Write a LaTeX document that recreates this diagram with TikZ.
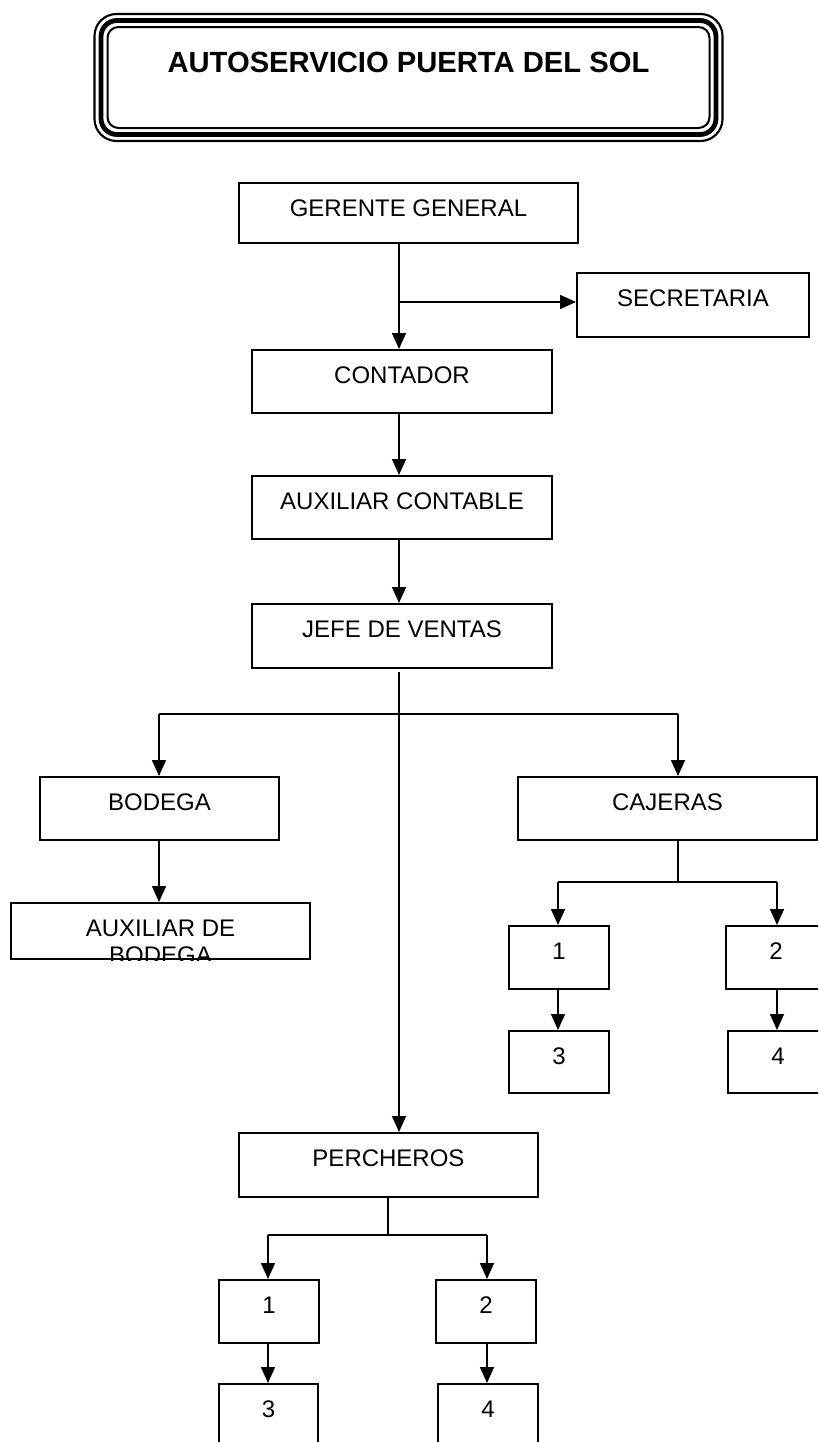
\documentclass[tikz,border=0pt]{standalone}
\usepackage{fontspec}
\setmainfont{Liberation Sans}
\usetikzlibrary{arrows.meta}
\tikzset{
  box/.style 2 args={draw=black, line width=1.5pt, rectangle, inner sep=0pt,
    minimum width=#1*0.75pt, minimum height=#2*0.75pt},
  lbl/.style={anchor=base, inner sep=0pt, font=\fontsize{18pt}{20.7pt}\selectfont, yshift=-25.5pt},
  conn/.style={draw=black, line width=1.2pt},
  arr/.style={conn, -{Triangle[length=12pt, width=10.5pt]}},
  frame/.style={draw=black}
}
\begin{document}
\begin{tikzpicture}[x=0.75pt, y=-0.75pt]
\useasboundingbox (0,0) rectangle (818,1442);
\clip (0,0) rectangle (818,1442);
% title frame
\node[frame, line width=1.6pt, rounded corners=22*0.75pt, minimum width=628*0.75pt, minimum height=127*0.75pt, inner sep=0pt] (title) at (408.5,77.5) {};
\draw[frame, line width=3.6pt, rounded corners=16*0.75pt] (101,20.5) rectangle (716,134.5);
\draw[frame, line width=1.5pt, rounded corners=11*0.75pt] (107.5,27) rectangle (709.5,128);
\node[anchor=base, inner sep=0pt, font=\fontsize{21.9pt}{25pt}\selectfont\bfseries] (title-t) at (408.5,72) {AUTOSERVICIO PUERTA DEL SOL};
% boxes
\node[box={339}{60}] (ger) at (408.5,213) {};
\node[lbl] (ger-t) at (ger.north) {GERENTE GENERAL};
\node[box={232}{64}] (sec) at (693,305) {};
\node[lbl] (sec-t) at (sec.north) {SECRETARIA};
\node[box={300}{63}] (con) at (402,381.5) {};
\node[lbl] (con-t) at (con.north) {CONTADOR};
\node[box={300}{63}] (aux) at (402,507.5) {};
\node[lbl] (aux-t) at (aux.north) {AUXILIAR CONTABLE};
\node[box={300}{64}] (jefe) at (402,636) {};
\node[lbl] (jefe-t) at (jefe.north) {JEFE DE VENTAS};
\node[box={239}{63}] (bod) at (159.5,808.5) {};
\node[lbl] (bod-t) at (bod.north) {BODEGA};
\node[box={299}{56}] (auxb) at (160.5,931) {};
\begin{scope}
\clip (auxb.south west) rectangle (auxb.north east);
\node[lbl] (auxb-t) at (auxb.north) {AUXILIAR DE};
\node[lbl, yshift=-20.7pt] (auxb-t2) at (auxb.north) {BODEGA};
\end{scope}
\node[box={299}{63}] (caj) at (667.5,808.5) {};
\node[lbl] (caj-t) at (caj.north) {CAJERAS};
\node[box={100}{63}] (c1) at (559,957.5) {};
\node[lbl] (c1-t) at (c1.north) {1};
\node[box={100}{63}] (c2) at (776,957.5) {};
\node[lbl] (c2-t) at (c2.north) {2};
\node[box={100}{62}] (c3) at (559,1062) {};
\node[lbl] (c3-t) at (c3.north) {3};
\node[box={100}{62}] (c4) at (778,1062) {};
\node[lbl] (c4-t) at (c4.north) {4};
\node[box={299}{64}] (per) at (388.5,1165) {};
\node[lbl] (per-t) at (per.north) {PERCHEROS};
\node[box={100}{63}] (p1) at (269,1311.5) {};
\node[lbl] (p1-t) at (p1.north) {1};
\node[box={100}{63}] (p2) at (486,1311.5) {};
\node[lbl] (p2-t) at (p2.north) {2};
\node[box={99}{63}] (p3) at (268.5,1415.5) {};
\node[lbl] (p3-t) at (p3.north) {3};
\node[box={100}{63}] (p4) at (488,1415.5) {};
\node[lbl] (p4-t) at (p4.north) {4};
% connectors
\coordinate (mx) at (399,0);
\coordinate (b1) at (399,302);
\draw[arr] (ger.south -| mx) -- (con.north -| mx);
\draw[arr] (b1) -- (b1 -| sec.west);
\draw[arr] (con.south -| mx) -- (aux.north -| mx);
\draw[arr] (aux.south -| mx) -- (jefe.north -| mx);
\coordinate (j0) at (399,672);
\draw[arr] (j0) -- (j0 |- per.north);
\coordinate (hl) at (159,714);
\coordinate (hr) at (678,714);
\draw[conn] (hl) -- (hr);
\draw[arr] (hl) -- (hl |- bod.north);
\draw[arr] (hr) -- (hr |- caj.north);
\draw[arr] (bod.south -| hl) -- (auxb.north -| hl);
% cajeras
\coordinate (cm) at (678,882);
\coordinate (cl) at (558,882);
\coordinate (cr) at (777,882);
\draw[conn] (caj.south -| cm) -- (cm);
\draw[conn] (cl) -- (cr);
\draw[arr] (cl) -- (cl |- c1.north);
\draw[arr] (cr) -- (cr |- c2.north);
\draw[arr] (c1.south -| cl) -- (c3.north -| cl);
\draw[arr] (c2.south -| cr) -- (c4.north -| cr);
% percheros
\coordinate (pm) at (388,1235);
\coordinate (pl) at (268,1235);
\coordinate (pr) at (487,1235);
\draw[conn] (per.south -| pm) -- (pm);
\draw[conn] (pl) -- (pr);
\draw[arr] (pl) -- (pl |- p1.north);
\draw[arr] (pr) -- (pr |- p2.north);
\draw[arr] (p1.south -| pl) -- (p3.north -| pl);
\draw[arr] (p2.south -| pr) -- (p4.north -| pr);
\end{tikzpicture}
\end{document}
